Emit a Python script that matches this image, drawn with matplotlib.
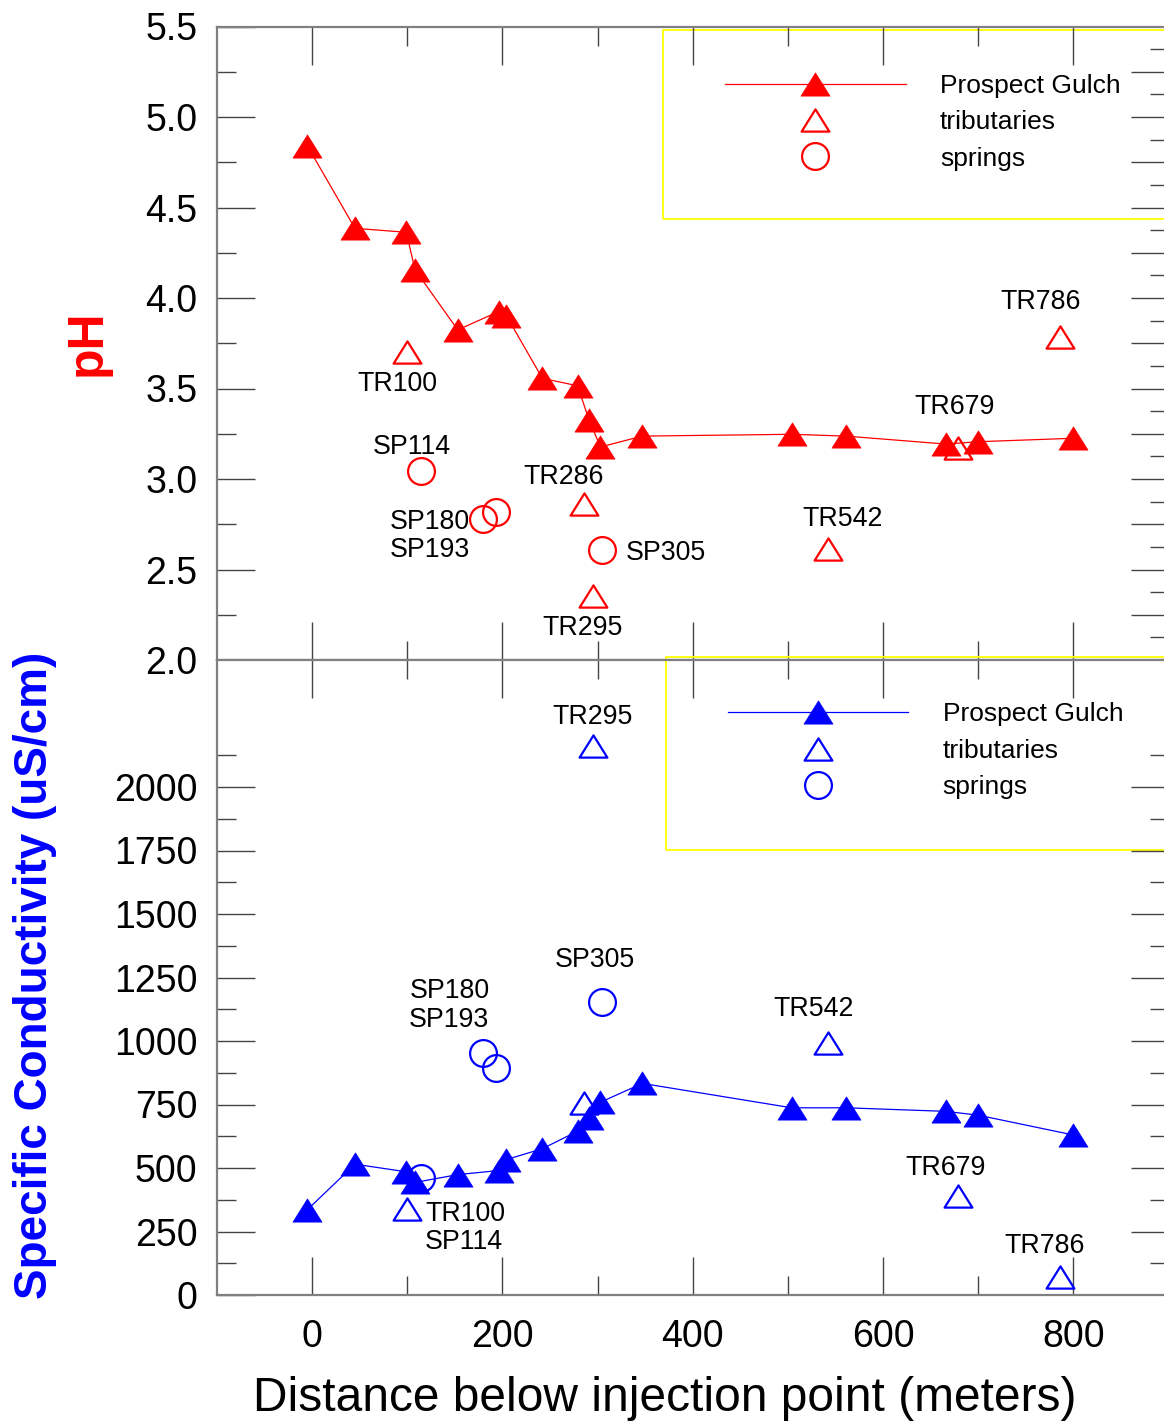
import matplotlib
matplotlib.use('Agg')
import matplotlib.pyplot as plt
from matplotlib.ticker import MultipleLocator, FixedLocator, FormatStrFormatter
from matplotlib.lines import Line2D
from matplotlib.patches import Rectangle
from matplotlib.path import Path

plt.rcParams['font.family'] = ['Liberation Sans', 'DejaVu Sans']

# ---------------- data ----------------
# Prospect Gulch main stem
pg_dist = [-5, 45, 99, 108, 153, 196, 204, 242, 279, 291, 303, 347, 504, 561, 666, 700, 800]
pg_ph = [4.84, 4.385, 4.363, 4.157, 3.824, 3.925, 3.903, 3.556, 3.515, 3.326,
         3.177, 3.237, 3.247, 3.237, 3.193, 3.206, 3.225]
pg_cond = [336, 515, 485, 443, 474, 490, 533, 576, 645, 698, 759, 833, 737, 737, 723, 708, 630]

# tributaries
tr_names = ['TR100', 'TR286', 'TR295', 'TR542', 'TR679', 'TR786']
tr_dist = [100, 286, 295, 542, 679, 786]
tr_ph = [3.704, 2.864, 2.353, 2.614, 3.174, 3.784]
tr_cond = [338, 754, 2160, 994, 390, 70]

# springs
sp_names = ['SP114', 'SP180', 'SP193', 'SP305']
sp_dist = [114, 180, 193, 305]
sp_ph = [3.046, 2.778, 2.816, 2.607]
sp_cond = [459, 953, 892, 1155]

legend_labels = ['Prospect Gulch', 'tributaries', 'springs']

# label offsets in pixels (dx, dy up), horizontal alignment
top_offsets = {
    'TR100': (-10, -29, 'center'), 'TR286': (-21, 29.5, 'center'),
    'TR295': (-10, -29, 'center'), 'TR542': (15, 33, 'center'),
    'TR679': (-3.5, 44, 'center'), 'TR786': (-19, 38, 'center'),
    'SP114': (-9, 26.5, 'center'), 'SP180': (-93.5, 0, 'left'),
    'SP193': (-106, -34.7, 'left'), 'SP305': (23.6, 0, 'left'),
}
bot_offsets = {
    'TR100': (18, -1.6, 'left'), 'TR286': None,
    'TR295': (0, 32, 'center'), 'TR542': (-14.4, 36.3, 'center'),
    'TR679': (-12.4, 31, 'center'), 'TR786': (-15.5, 34.7, 'center'),
    'SP114': (4.3, -60.5, 'left'), 'SP180': (-33.2, 64.6, 'center'),
    'SP193': (-46.5, 51.7, 'center'), 'SP305': (-7.7, 44.8, 'center'),
}

# ---------------- style ----------------
RED = '#ff0000'
BLUE = '#0000ff'
SPINE = '#808080'
TICK = '#444444'
TRI = Path([(-1, -0.8), (1, -0.8), (0, 0.8), (-1, -0.8)],
           [Path.MOVETO, Path.LINETO, Path.LINETO, Path.CLOSEPOLY])
MS = 20.9
MS_OPEN = 20.0
MS_C = 19.3
LBL_FS = 19.3
LEG_FS = 19.0
TICK_FS = 27
PX = 72.0 / 100.0

fig = plt.figure(figsize=(11.64, 14.21), dpi=100)
left = 217 / 1164
width = (1168.5 - 217) / 1164
ax1 = fig.add_axes([left, 1 - 660 / 1421, width, (660 - 26.5) / 1421])
ax2 = fig.add_axes([left, 1 - 1295 / 1421, width, 635 / 1421])


def style_axes(ax):
    for s in ax.spines.values():
        s.set_color(SPINE)
        s.set_linewidth(1.6)
    ax.set_xlim(-100, 900)
    ax.xaxis.set_major_locator(MultipleLocator(200))
    ax.xaxis.set_minor_locator(FixedLocator([100, 300, 500, 700]))
    ax.tick_params(axis='both', which='both', direction='in', color=TICK,
                   width=1.0, labelsize=TICK_FS, top=True, bottom=True)
    ax.tick_params(axis='both', which='major', length=27.4)
    ax.tick_params(axis='both', which='minor', length=13.7)
    ax.tick_params(axis='y', right=False, pad=14)
    ax.tick_params(axis='x', pad=17)


def add_right(ax, major, minor):
    r = ax.twinx()
    r.set_ylim(ax.get_ylim())
    r.yaxis.set_major_locator(FixedLocator(major))
    r.yaxis.set_minor_locator(FixedLocator(minor))
    r.tick_params(axis='y', which='both', direction='in', color=TICK, width=1.0,
                  labelright=False, right=True, left=False)
    r.tick_params(axis='y', which='major', length=27.4)
    r.tick_params(axis='y', which='minor', length=13.7)
    for s in r.spines.values():
        s.set_visible(False)
    return r


def plot_panel(ax, ys_pg, ys_tr, ys_sp, color, offsets):
    ax.plot(pg_dist, ys_pg, color=color, lw=0.9, marker=TRI, ms=MS,
            mfc=color, mec=color, mew=0.5, zorder=3)
    ax.plot(tr_dist, ys_tr, ls='none', marker=TRI, ms=MS_OPEN, mfc='none',
            mec=color, mew=1.6, zorder=4)
    ax.plot(sp_dist, ys_sp, ls='none', marker='o', ms=MS_C, mfc='none',
            mec=color, mew=1.6, zorder=4)
    for names, xs, ys in ((tr_names, tr_dist, ys_tr), (sp_names, sp_dist, ys_sp)):
        for n, x, y in zip(names, xs, ys):
            off = offsets.get(n)
            if off is None:
                continue
            dx, dy, ha = off
            ax.annotate(n, xy=(x, y), xytext=(dx * PX, dy * PX),
                        textcoords='offset points', ha=ha, va='center_baseline',
                        fontsize=LBL_FS, color='black', zorder=5)


def legend_box(ax, color, rect, anchor):
    x0, y0, w, h = rect
    ax.add_patch(Rectangle((x0, y0), w, h, transform=ax.transAxes, fill=False,
                           ec='#ffff00', lw=1.3, clip_on=False, zorder=1))
    handles = [
        Line2D([], [], color=color, lw=0.9, marker=TRI, ms=MS, mfc=color, mec=color, mew=0.5),
        Line2D([], [], ls='none', marker=TRI, ms=MS_OPEN, mfc='none', mec=color, mew=1.6),
        Line2D([], [], ls='none', marker='o', ms=MS_C, mfc='none', mec=color, mew=1.6),
    ]
    ax.legend(handles, legend_labels, loc='center left', bbox_to_anchor=anchor,
              frameon=False, fontsize=LEG_FS, handlelength=6.85, handletextpad=1.3,
              labelspacing=0.47, borderpad=0, borderaxespad=0, numpoints=1)


# ---------------- top panel: pH ----------------
style_axes(ax1)
ax1.set_ylim(2.0, 5.5)
ax1.yaxis.set_major_locator(MultipleLocator(0.5))
ax1.yaxis.set_minor_locator(FixedLocator([2.25, 2.75, 3.25, 3.75, 4.25, 4.75, 5.25]))
ax1.yaxis.set_major_formatter(FormatStrFormatter('%.1f'))
ax1.tick_params(axis='x', labelbottom=False)
add_right(ax1, [2.25 + 0.25 * i for i in range(13)], [2.125 + 0.25 * i for i in range(14)])
plot_panel(ax1, pg_ph, tr_ph, sp_ph, RED, top_offsets)
legend_box(ax1, RED, (0.4687, 0.696, 0.5313, 0.2977), (0.5339, 0.849))
ax1.set_ylabel('pH', color=RED, fontsize=36, fontweight='bold')
ax1.yaxis.set_label_coords(-0.1114, 0.501)

# ---------------- bottom panel: conductivity ----------------
style_axes(ax2)
ax2.set_ylim(0, 2500)
ax2.yaxis.set_major_locator(FixedLocator([250 * i for i in range(9)]))
ax2.yaxis.set_minor_locator(FixedLocator([125 + 250 * i for i in range(9)]))
add_right(ax2, [250 * i for i in range(1, 9)], [125 + 250 * i for i in range(9)])
plot_panel(ax2, pg_cond, tr_cond, sp_cond, BLUE, bot_offsets)
legend_box(ax2, BLUE, (0.4724, 0.7008, 0.5276, 0.3042), (0.5367, 0.857))
ax2.set_ylabel('Specific Conductivity (uS/cm)', color=BLUE, fontsize=33, fontweight='bold')
ax2.yaxis.set_label_coords(-0.1678, 0.504)
ax2.set_xlabel('Distance below injection point (meters)', fontsize=34.5)
ax2.xaxis.set_label_coords(0.4705, -0.1268)

fig.savefig('out.png', dpi=100)
